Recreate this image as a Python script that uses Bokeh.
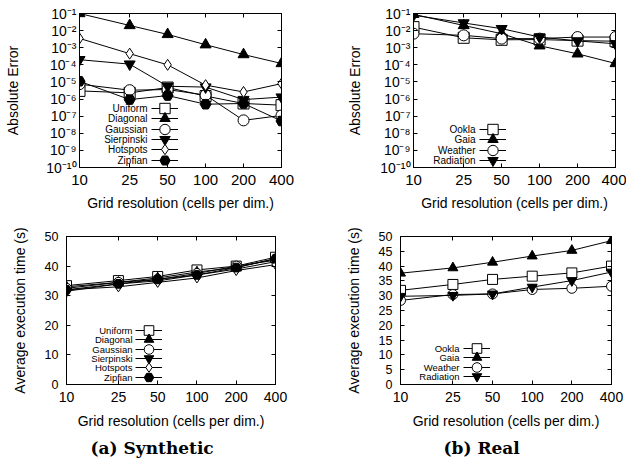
from bokeh.plotting import figure
from bokeh.layouts import column, row
from bokeh.models import (FixedTicker, CustomJSTickFormatter, PrintfTickFormatter,
                          LogAxis, LinearAxis, Legend, LegendItem, Label, Title)
from bokeh.embed import file_html
from bokeh.resources import INLINE

# ---------------- data ----------------
resolutions = [10, 25, 50, 100, 200, 400]
res_ticks = [10, 25, 50, 100, 200, 400]

syn_names = ["Uniform", "Diagonal", "Gaussian", "Sierpinski", "Hotspots", "Zipfian"]
real_names = ["Ookla", "Gaia", "Weather", "Radiation"]

syn_err_uniform = [3e-6, 2.3e-6, 4.7e-6, 1.5e-6, 5.5e-7, 4.4e-7]
syn_err_diagonal = [1e-1, 2e-2, 6e-3, 1.5e-3, 4e-4, 1.2e-4]
syn_err_gaussian = [7.4e-6, 3.3e-6, 3.6e-6, 1.7e-6, 5.7e-8, 1.1e-7]
syn_err_sierpinski = [2e-4, 1.1e-4, 5.6e-6, 5e-6, 9.3e-7, 1.3e-6]
syn_err_hotspots = [3.5e-3, 4.5e-4, 1e-4, 6.5e-6, 2.6e-6, 8e-6]
syn_err_zipfian = [1.1e-5, 9.3e-7, 1.6e-6, 5e-7, 5.5e-7, 5.2e-8]

real_err_ookla = [1.6e-2, 3.8e-3, 2.9e-3, 3e-3, 2.6e-3, 2.4e-3]
real_err_gaia = [9e-2, 2e-2, 6.6e-3, 1.3e-3, 4.4e-4, 1.2e-4]
real_err_weather = [6.6e-3, 5.3e-3, 3.4e-3, 3.4e-3, 4.2e-3, 4.2e-3]
real_err_radiation = [8e-2, 2.8e-2, 1.3e-2, 4.2e-3, 2.5e-3, 1.7e-3]

syn_time_uniform = [33.4, 35.1, 36.5, 38.7, 40.0, 43.0]
syn_time_diagonal = [33.0, 34.5, 36.0, 38.0, 39.5, 42.5]
syn_time_gaussian = [32.5, 34.5, 35.5, 37.5, 40.0, 42.0]
syn_time_sierpinski = [31.5, 34.0, 35.0, 37.0, 39.0, 41.5]
syn_time_hotspots = [32.0, 33.0, 34.5, 36.0, 38.5, 40.5]
syn_time_zipfian = [32.0, 34.0, 35.5, 37.0, 39.5, 42.5]

real_time_ookla = [31.8, 33.8, 35.5, 36.6, 37.7, 40.0]
real_time_gaia = [37.6, 39.4, 41.3, 43.4, 45.3, 48.6]
real_time_weather = [28.4, 30.4, 30.6, 32.1, 32.5, 33.2]
real_time_radiation = [29.8, 30.1, 30.6, 32.9, 35.1, 38.0]

err_ticks = [1e-10, 1e-9, 1e-8, 1e-7, 1e-6, 1e-5, 1e-4, 1e-3, 1e-2, 1e-1]
syn_time_ticks = [0, 10, 20, 30, 40, 50]
real_time_ticks = [0, 5, 10, 15, 20, 25, 30, 35, 40, 45, 50]

# ---------------- style ----------------
SANS = "Liberation Sans"
SERIF = "DejaVu Serif"
syn_markers = [("square", "white"), ("triangle", "black"), ("circle", "white"),
               ("inverted_triangle", "black"), ("diamond", "white"), ("hex", "black")]
real_markers = [("square", "white"), ("triangle", "black"), ("circle", "white"),
                ("inverted_triangle", "black")]

sup_fmt_code = """
const e = Math.round(Math.log10(tick));
const m = {"-":"\u207b","0":"\u2070","1":"\u00b9","2":"\u00b2","3":"\u00b3","4":"\u2074",
           "5":"\u2075","6":"\u2076","7":"\u2077","8":"\u2078","9":"\u2079"};
return "10" + String(e).split("").map(c => m[c]).join("");
"""


def style_axis(ax, font_size, label_size="14px"):
    ax.major_tick_in = 4
    ax.major_tick_out = 0
    ax.minor_tick_line_color = None
    ax.axis_line_color = "black"
    ax.major_tick_line_color = "black"
    ax.major_label_text_font = SANS
    ax.major_label_text_font_size = font_size
    ax.major_label_text_color = "black"
    ax.axis_label_text_font = SANS
    ax.axis_label_text_font_size = label_size
    ax.axis_label_text_font_style = "normal"
    ax.axis_label_text_color = "black"


def make_fig(width, height, borders, ylog, yrange, yticks, ylabel,
             xfs, yfs, xstand, xlstand, ystand, ylstand):
    l, r, t, b = borders
    p = figure(width=width, height=height, x_axis_type="log",
               y_axis_type="log" if ylog else "linear",
               x_range=(10, 400), y_range=yrange,
               output_backend="svg", toolbar_location=None,
               min_border_left=l, min_border_right=r,
               min_border_top=t, min_border_bottom=b)
    p.grid.visible = False
    p.outline_line_color = "black"
    p.background_fill_color = "white"
    p.border_fill_color = "white"
    xa = p.xaxis[0]
    xa.ticker = FixedTicker(ticks=res_ticks)
    xa.formatter = PrintfTickFormatter(format="%d")
    xa.axis_label = "Grid resolution (cells per dim.)"
    style_axis(xa, xfs)
    xa.major_label_standoff = xstand
    xa.axis_label_standoff = xlstand
    ya = p.yaxis[0]
    ya.ticker = FixedTicker(ticks=yticks)
    if ylog:
        ya.formatter = CustomJSTickFormatter(code=sup_fmt_code)
    ya.axis_label = ylabel
    style_axis(ya, yfs)
    ya.major_label_standoff = ystand
    ya.axis_label_standoff = ylstand
    # mirrored ticks (gnuplot style)
    empty = CustomJSTickFormatter(code="return '';")
    ra = (LogAxis if ylog else LinearAxis)(ticker=FixedTicker(ticks=yticks), formatter=empty)
    style_axis(ra, "0px")
    ra.major_label_standoff = 0
    p.add_layout(ra, "right")
    ta = LogAxis(ticker=FixedTicker(ticks=res_ticks), formatter=empty)
    style_axis(ta, "0px")
    ta.major_label_standoff = 0
    p.add_layout(ta, "above")
    return p


def add_series(p, series, markers, size):
    rends = []
    for vals, (mk, fill) in zip(series, markers):
        lr = p.line(resolutions, vals, line_color="black", line_width=1)
        sr = p.scatter(resolutions, vals, marker=mk, size=size,
                       fill_color=fill, line_color="black", line_width=1)
        rends.append((lr, sr))
    return rends


def add_legend(p, rends, names, frame_bottom, first_row, row_step,
               glyph_x, gw, gh, lab_x, fs):
    # one single-item legend per row (gnuplot-like: label right-aligned, sample on right)
    for i, ((lr, sr), name) in enumerate(zip(rends, names)):
        c = first_row + i * row_step
        leg = Legend(items=[LegendItem(label="", renderers=[lr, sr])],
                     location=(glyph_x, frame_bottom - c - gh / 2),
                     orientation="vertical", glyph_width=gw, glyph_height=gh,
                     spacing=0, padding=0, margin=0, label_standoff=0,
                     label_width=0, label_height=0, label_text_font_size="1px",
                     border_line_alpha=0, background_fill_alpha=0)
        p.add_layout(leg, "center")
        p.add_layout(Label(x=lab_x, y=frame_bottom - c, x_units="screen", y_units="screen",
                           text=name, text_align="right", text_baseline="middle",
                           text_font=SANS, text_font_size=fs, text_color="black"))


# ---------------- top left: synthetic error ----------------
# frame: x 79..281, y 13..167
p1 = make_fig(313, 217, (79, 32, 13, 50), True, (1e-10, 1e-1), err_ticks, "Absolute Error",
              "15px", "14px", 7, 7, 3, 22)
r1 = add_series(p1, [syn_err_uniform, syn_err_diagonal, syn_err_gaussian,
                     syn_err_sierpinski, syn_err_hotspots, syn_err_zipfian], syn_markers, 11)
add_legend(p1, r1, syn_names, 154, 95, 10.3, 72, 27, 26, 68, "10px")

# ---------------- top right: real error ----------------
# frame: x 413..615, y 13..167
p2 = make_fig(313, 217, (100, 11, 13, 50), True, (1e-10, 1e-1), err_ticks, "Absolute Error",
              "15px", "14px", 7, 7, 3, 14)
r2 = add_series(p2, [real_err_ookla, real_err_gaia, real_err_weather, real_err_radiation],
                real_markers, 11)
add_legend(p2, r2, real_names, 154, 116, 10.3, 66, 27, 26, 62, "10px")

# ---------------- bottom left: synthetic time ----------------
# frame: x 66..275, y 236..384 (figure starts at y 217)
p3 = make_fig(313, 248, (66, 38, 19, 81), False, (0, 50), syn_time_ticks,
              "Average execution time (s)", "14px", "12.5px", 7, 8, 8, 14)
r3 = add_series(p3, [syn_time_uniform, syn_time_diagonal, syn_time_gaussian,
                     syn_time_sierpinski, syn_time_hotspots, syn_time_zipfian], syn_markers, 10)
add_legend(p3, r3, syn_names, 148, 94, 9.3, 69, 27, 24, 66, "9.5px")
p3.add_layout(Title(text="(a) Synthetic", align="left", offset=24, standoff=8, text_font=SERIF,
                    text_font_style="bold", text_font_size="17px", text_color="black"), "below")

# ---------------- bottom right: real time ----------------
# frame: x 400..611, y 236..384
p4 = make_fig(313, 248, (87, 15, 19, 81), False, (0, 50), real_time_ticks,
              "Average execution time (s)", "14px", "12.5px", 7, 8, 8, 14)
r4 = add_series(p4, [real_time_ookla, real_time_gaia, real_time_weather, real_time_radiation],
                real_markers, 10)
add_legend(p4, r4, real_names, 148, 112, 9.3, 63, 27, 24, 59, "9.5px")
p4.add_layout(Title(text="(b) Real", align="left", offset=43, standoff=8, text_font=SERIF,
                    text_font_style="bold", text_font_size="17px", text_color="black"), "below")

layout = column(row(p1, p2), row(p3, p4))
open("out.html", "w").write(file_html(layout, INLINE))
